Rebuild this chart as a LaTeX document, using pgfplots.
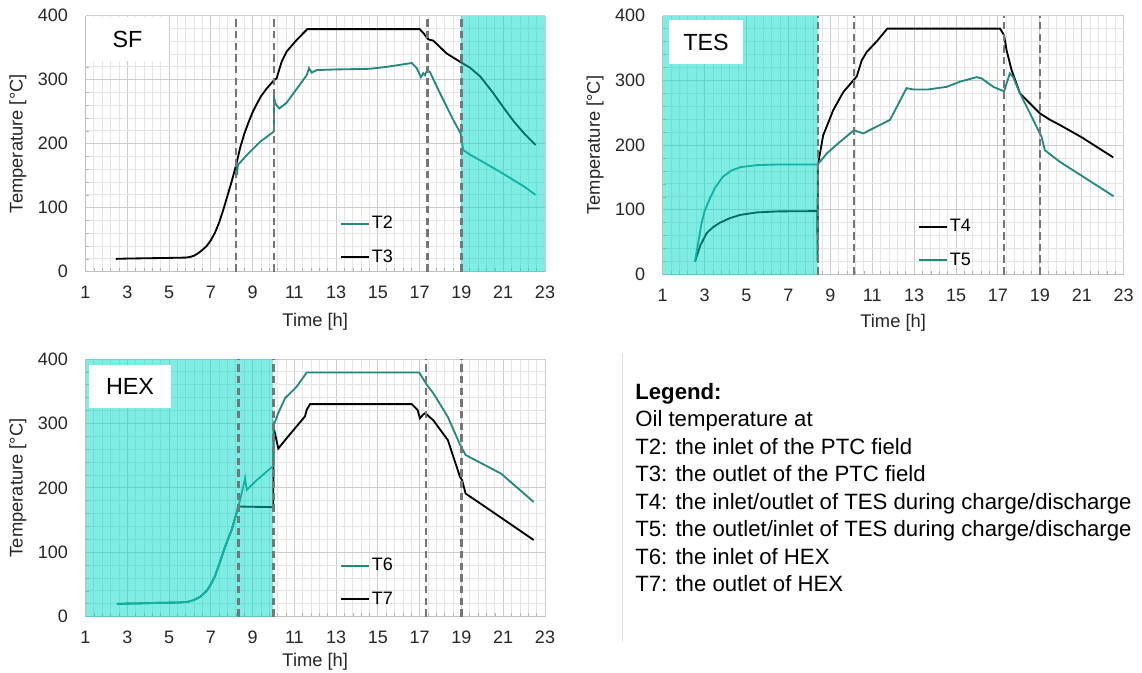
\documentclass[border=0pt]{standalone}
\usepackage{fontspec}
\setmainfont{Liberation Sans}
\usepackage{pgfplots}
\pgfplotsset{compat=1.18}
\definecolor{tealline}{HTML}{23897F}
\definecolor{cyanov}{HTML}{00DBC9}
\definecolor{dashgray}{HTML}{767676}

\pgfplotsset{
  panel/.style={
    scale only axis,
    xmin=1, xmax=23, ymin=0, ymax=400,
    xtick={1,3,...,23}, ytick={0,100,...,400},
    minor x tick num=4, minor y tick num=4,
    grid=both,
    major grid style={gray!40, line width=0.6pt},
    minor grid style={gray!20, line width=0.5pt},
    axis x line*=bottom, axis y line*=left,
    axis line style={gray!50, line width=0.8pt},
    tick align=inside, major tick length=0pt, minor tick length=2pt,
    every tick/.style={gray!60},
    tick label style={font=\fontsize{10.8}{12}\selectfont, black!85},
    xticklabel style={yshift=-5pt},
    yticklabel style={xshift=-7pt},
    /pgf/number format/assume math mode=true,
    xlabel={Time [h]}, ylabel={Temperature [°C]},
    label style={font=\fontsize{11}{12}\selectfont, black!85},
    legend style={draw=none, fill=none, font=\fontsize{10.8}{12}\selectfont,
      at={(0.542,0.0)}, anchor=south west, row sep=7pt,
      nodes={inner xsep=1pt}},
    legend cell align=left,
  },
  dline/.style={dashgray, line width=1.4pt, dash pattern=on 4.5pt off 2.5pt, forget plot},
  cyanfill/.style={draw=none, fill=cyanov, fill opacity=0.5, forget plot},
  tl/.style={tealline, line width=1.1pt},
  bl/.style={black, line width=1.1pt},
}

\begin{document}
\begin{tikzpicture}
\path[use as bounding box] (0pt,0pt) rectangle (685.2pt,-403.8pt);

% ---------------- SF ----------------
\begin{axis}[panel, at={(51.3pt,-163.0pt)}, anchor=south west,
  width=275.7pt, height=153.6pt, xlabel style={yshift=-2pt}]
\addplot[tl] coordinates {
 (8.22,168) (8.25,151) (8.3,167) (8.72,182) (9.36,203) (10.02,219) (10.03,272)
 (10.1,262) (10.28,255) (10.63,264) (11.59,307) (11.7,318) (11.83,311) (12.07,315)
 (13.03,316) (14.62,317) (15.42,320) (16.62,326) (16.86,318) (17.06,304) (17.17,310)
 (17.25,307) (17.36,315) (17.49,312) (17.97,279) (18.61,237) (18.96,216) (19.09,190)
 (19.4,183) (20,172) (21,153) (22,133) (22.55,120)
};
\addlegendentry{T2}
\addplot[bl] coordinates {
 (2.45,20) (3,20.5) (4,21) (5,21.5) (5.8,22) (6.0,23) (6.2,25) (6.4,29) (6.6,34)
 (6.8,40) (7.0,49) (7.2,61) (7.4,77) (7.6,97) (7.8,119) (8.0,141) (8.22,168)
 (8.4,193) (8.6,215) (8.8,233) (9.0,249) (9.2,262) (9.4,274) (9.67,286) (10.02,299)
 (10.15,302) (10.39,328) (10.63,344) (11.11,362) (11.62,379) (17.0,379) (17.2,372)
 (17.41,363) (17.65,361) (18.29,341) (18.93,328) (19.4,319) (19.9,305) (20.5,280)
 (21,257) (21.5,235) (22,216) (22.55,198)
};
\addlegendentry{T3}
\addplot[cyanfill] coordinates {(19,400) (23,400)} \closedcycle;
\addplot[dline] coordinates {(8.22,0) (8.22,400)};
\addplot[dline] coordinates {(10.03,0) (10.03,400)};
\addplot[dline] coordinates {(17.37,0) (17.37,400)};
\addplot[dline] coordinates {(19.0,0) (19.0,400)};
\end{axis}

% ---------------- TES ----------------
\begin{axis}[panel, at={(397.6pt,-164.7pt)}, anchor=south west,
  width=276.6pt, height=155.3pt, xlabel style={yshift=-1pt}]
\addplot[bl] coordinates {
 (2.54,20) (2.8,45) (3.1,64) (3.4,73) (3.73,80) (4.2,87) (4.69,92) (5.5,96) (6.5,97.5)
 (8.38,98) (8.39,20) (8.4,168) (8.66,215) (9.14,254) (9.62,282) (10.1,300) (10.26,306)
 (10.5,331) (10.74,344) (11.21,360) (11.72,380) (17.1,380) (17.29,370) (17.41,347)
 (17.65,316) (18.05,280) (18.69,259) (19.0,249) (19.49,239) (19.96,231) (21,212)
 (22.5,181)
};
\addlegendentry{T4}
\addplot[tl] coordinates {
 (2.54,20) (2.7,50) (2.85,78) (3.0,98) (3.26,118) (3.5,134) (3.87,151) (4.3,161)
 (4.73,166) (5.5,169) (6.5,170) (8.4,170) (8.83,187) (9.46,205) (10.13,223)
 (10.57,218) (11.85,239) (12.64,288) (12.96,286) (13.68,286) (14.55,290) (15.19,298)
 (15.98,305) (16.22,303) (16.78,290) (17.29,283) (17.57,311) (17.73,305) (18.05,280)
 (18.53,249) (19.0,218) (19.08,213) (19.24,192) (19.96,174) (22.52,121)
};
\addlegendentry{T5}
\addplot[cyanfill] coordinates {(1,400) (8.4,400)} \closedcycle;
\addplot[dline] coordinates {(8.4,0) (8.4,400)};
\addplot[dline] coordinates {(10.13,0) (10.13,400)};
\addplot[dline] coordinates {(17.29,0) (17.29,400)};
\addplot[dline] coordinates {(19.0,0) (19.0,400)};
\end{axis}

% ---------------- HEX ----------------
\begin{axis}[panel, at={(51.3pt,-370.0pt)}, anchor=south west,
  width=275.7pt, height=154.6pt, reverse legend,
  xlabel style={yshift=1pt},
  legend style={at={(0.542,0.012)}}]
\addplot[bl] coordinates {
 (2.5,20) (3.5,20.5) (4.5,21.5) (5.5,22) (5.9,23) (6.2,26) (6.5,31) (6.8,40) (7.0,50)
 (7.2,63) (7.44,85) (7.7,110) (8.0,135) (8.32,171) (9.99,170) (10.0,295) (10.23,261)
 (10.63,277) (11.51,311) (11.59,321) (11.75,330) (16.62,330) (16.9,321) (17.01,308)
 (17.17,314) (17.27,316) (17.4,312) (17.65,305) (18.35,274) (18.93,217) (19.03,212)
 (19.2,191) (19.89,176) (22.46,119)
};
\addlegendentry{T7}
\addplot[tl] coordinates {
 (2.5,20) (3.5,20.5) (4.5,21.5) (5.5,22) (5.9,23) (6.2,26) (6.5,31) (6.8,40) (7.0,50)
 (7.2,63) (7.44,85) (7.7,110) (8.0,135) (8.32,171) (8.48,192) (8.64,215) (8.72,197)
 (9.2,212) (9.99,234) (10.02,298) (10.23,316) (10.55,339) (11.11,357) (11.59,379)
 (16.98,379) (17.34,360) (17.65,347) (18.35,310) (18.93,267) (19.2,251) (20.9,222)
 (22.46,178)
};
\addlegendentry{T6}
\addplot[cyanfill] coordinates {(1,400) (10.0,400)} \closedcycle;
\addplot[dline] coordinates {(8.32,0) (8.32,400)};
\addplot[dline] coordinates {(10.0,0) (10.0,400)};
\addplot[dline] coordinates {(17.3,0) (17.3,400)};
\addplot[dline] coordinates {(19.0,0) (19.0,400)};
\end{axis}

% panel name boxes
\node[fill=white, inner sep=0pt, minimum width=49.8pt, minimum height=26.4pt,
  font=\fontsize{14}{16}\selectfont] at (76.5pt,-23.4pt) {SF};
\node[fill=white, inner sep=0pt, minimum width=44.4pt, minimum height=26.4pt,
  font=\fontsize{14}{16}\selectfont] at (423.6pt,-25.2pt) {TES};
\node[fill=white, inner sep=0pt, minimum width=49.2pt, minimum height=25.8pt,
  font=\fontsize{14}{16}\selectfont] at (78pt,-231.9pt) {HEX};

% legend text block
\draw[gray!22, line width=0.6pt] (373.2pt,-212pt) -- (373.2pt,-385pt);
\begin{scope}[every node/.style={anchor=base west, inner sep=0pt,
  font=\fontsize{13.3}{15}\selectfont}]
\node at (381pt,-239.4pt) {\textbf{Legend:}};
\node at (381pt,-255.9pt) {Oil temperature at};
\node at (381pt,-272.4pt) {T2: the inlet of the PTC field};
\node at (381pt,-288.9pt) {T3: the outlet of the PTC field};
\node at (381pt,-305.4pt) {T4: the inlet/outlet of TES during charge/discharge};
\node at (381pt,-321.9pt) {T5: the outlet/inlet of TES during charge/discharge};
\node at (381pt,-338.4pt) {T6: the inlet of HEX};
\node at (381pt,-354.9pt) {T7: the outlet of HEX};
\end{scope}
\end{tikzpicture}
\end{document}
